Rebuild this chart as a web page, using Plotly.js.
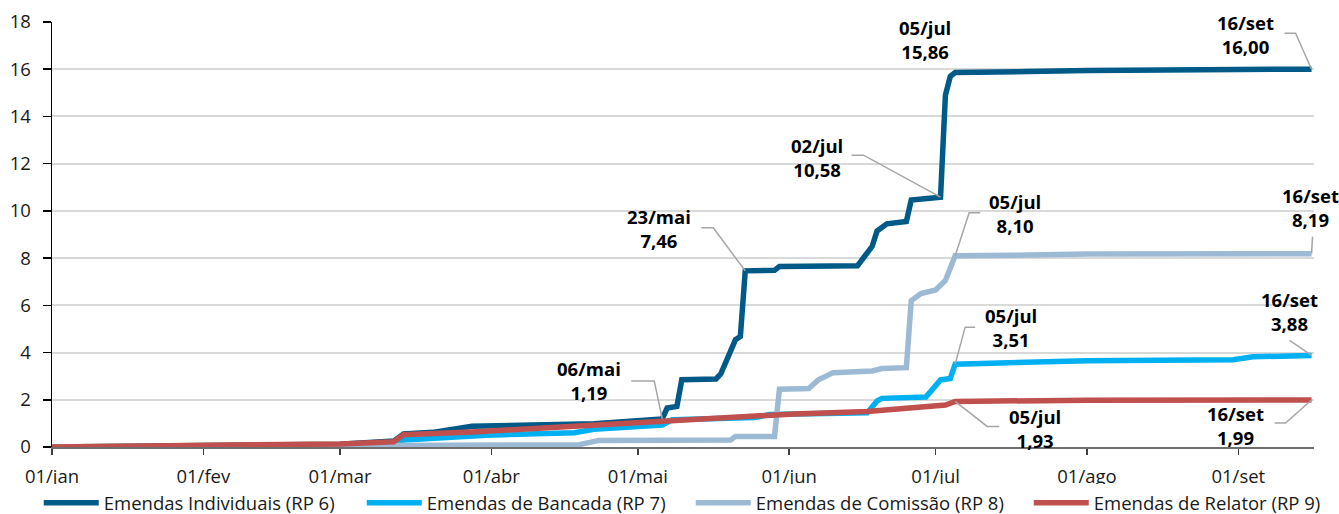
<!DOCTYPE html>
<html><head><meta charset="utf-8">
<script src="https://cdn.plot.ly/plotly-3.0.1.min.js"></script>
<style>html,body{margin:0;padding:0;background:#fff}#chart{width:1339px;height:514px}</style>
</head><body><div id="chart"></div>
<script>
// ---------- DATA ----------
const seriesNames = ['Emendas Individuais (RP 6)', 'Emendas de Bancada (RP 7)', 'Emendas de Comissão (RP 8)', 'Emendas de Relator (RP 9)'];

const rp6Dates = ['2021-01-01','2021-02-01','2021-03-01','2021-03-12','2021-03-14','2021-03-20','2021-03-28','2021-04-22','2021-04-30','2021-05-06','2021-05-07','2021-05-09','2021-05-10','2021-05-17','2021-05-18','2021-05-21','2021-05-22','2021-05-23','2021-05-29','2021-05-30','2021-06-15','2021-06-18','2021-06-19','2021-06-21','2021-06-25','2021-06-26','2021-07-02','2021-07-03','2021-07-04','2021-07-05','2021-07-20','2021-08-01','2021-09-01','2021-09-16'];
const rp6Values = [0.00,0.05,0.12,0.25,0.55,0.62,0.88,0.98,1.10,1.19,1.65,1.72,2.85,2.88,3.10,4.55,4.68,7.46,7.48,7.65,7.68,8.50,9.15,9.45,9.55,10.46,10.58,14.90,15.70,15.86,15.90,15.95,15.99,16.00];

const rp7Dates = ['2021-01-01','2021-03-12','2021-03-14','2021-03-31','2021-04-18','2021-04-22','2021-05-06','2021-05-08','2021-05-25','2021-05-28','2021-06-17','2021-06-19','2021-06-20','2021-06-29','2021-07-02','2021-07-04','2021-07-05','2021-07-20','2021-08-01','2021-08-31','2021-09-04','2021-09-16'];
const rp7Values = [0.00,0.05,0.30,0.50,0.60,0.75,0.93,1.15,1.25,1.38,1.45,1.95,2.06,2.12,2.84,2.90,3.51,3.58,3.65,3.70,3.82,3.88];

const rp8Dates = ['2021-01-01','2021-03-12','2021-03-14','2021-04-19','2021-04-23','2021-05-20','2021-05-21','2021-05-29','2021-05-30','2021-06-05','2021-06-07','2021-06-10','2021-06-18','2021-06-20','2021-06-25','2021-06-26','2021-06-28','2021-07-01','2021-07-03','2021-07-05','2021-07-20','2021-08-01','2021-09-16'];
const rp8Values = [0.00,0.03,0.08,0.10,0.28,0.30,0.45,0.45,2.45,2.48,2.85,3.15,3.22,3.32,3.36,6.20,6.50,6.65,7.05,8.10,8.13,8.17,8.19];

const rp9Dates = ['2021-01-01','2021-02-01','2021-03-01','2021-03-12','2021-03-14','2021-03-29','2021-04-17','2021-05-06','2021-05-20','2021-06-02','2021-06-17','2021-06-22','2021-06-28','2021-07-03','2021-07-05','2021-07-20','2021-08-01','2021-09-16'];
const rp9Values = [0.00,0.06,0.13,0.22,0.52,0.65,0.86,1.12,1.27,1.40,1.50,1.60,1.70,1.78,1.93,1.97,1.98,1.99];

const tickDates = ['2021-01-01','2021-02-01','2021-03-01','2021-04-01','2021-05-01','2021-06-01','2021-07-01','2021-08-01','2021-09-01'];
const tickLabels = ['01/jan','01/fev','01/mar','01/abr','01/mai','01/jun','01/jul','01/ago','01/set'];
const monthAbbr = ['jan','fev','mar','abr','mai','jun','jul','ago','set','out','nov','dez'];

// highlighted points: series index + date
const annSeries = [0,0,0,0,0,2,2,1,1,3,3];
const annDates = ['2021-05-06','2021-05-23','2021-07-02','2021-07-05','2021-09-16','2021-07-05','2021-09-16','2021-07-05','2021-09-16','2021-07-05','2021-09-16'];

// ---------- STYLE ----------
const colors = ['#005A87', '#00B0F0', '#9DBAD5', '#C0504D'];
const legendWidths = [253, 259, 268, 248];
const FONT = 'Open Sans, Noto Sans, sans-serif';
// label centre offsets (px, +y = up) and leader line paths (px, +y = up)
const labelOffsets = [[-73,38],[-86,42],[-124,40],[-30,33],[-66,35],[60,42],[-1,46],[56,37],[-22,44],[80,-27],[-76,-25]];
const leaderPaths = [
  [[0,0],[-8,38],[-31,38]],
  [[0,0],[-32,43],[-44,43]],
  [[0,0],[-77,42],[-89,42]],
  null,
  [[0,0],[-16,36],[-27,36]],
  [[0,0],[14,43],[25,43]],
  [[0,0],[1,17]],
  [[0,0],[10,37],[20,37]],
  [[0,0],[-22,15]],
  [[0,0],[32,-25],[44,-25]],
  [[0,0],[-26,-23],[-37,-23]]
];

const allDates = [rp6Dates, rp7Dates, rp8Dates, rp9Dates];
const allValues = [rp6Values, rp7Values, rp8Values, rp9Values];

const traces = seriesNames.map((name, i) => ({
  type: 'scatter', mode: 'lines', name: name,
  x: allDates[i], y: allValues[i],
  line: {color: colors[i], width: 5.5},
  legendwidth: legendWidths[i],
  hoverinfo: 'skip'
}));

function fmtDate(d) {
  const p = d.split('-');
  return p[2] + '/' + monthAbbr[parseInt(p[1], 10) - 1];
}
function fmtVal(v) { return v.toFixed(2).replace('.', ','); }

const annotations = [];
const shapes = [];
annDates.forEach((d, k) => {
  const s = annSeries[k];
  const idx = allDates[s].indexOf(d);
  const v = allValues[s][idx];
  annotations.push({
    xref: 'x', yref: 'y', x: d, y: v,
    xshift: labelOffsets[k][0], yshift: labelOffsets[k][1],
    text: '<b>' + fmtDate(d) + '<br>' + fmtVal(v) + '</b>',
    showarrow: false, xanchor: 'center', yanchor: 'middle', align: 'center',
    font: {family: FONT, size: 18.5, color: '#000'}
  });
  if (leaderPaths[k]) {
    const path = leaderPaths[k].map((p, j) => (j ? 'L' : 'M') + p[0] + ',' + p[1]).join('');
    shapes.push({
      type: 'path', xref: 'x', yref: 'y', xsizemode: 'pixel', ysizemode: 'pixel',
      xanchor: d, yanchor: v, path: path,
      line: {color: '#A6A6A6', width: 1.5}, layer: 'above'
    });
  }
});

const layout = {
  width: 1339, height: 514,
  margin: {l: 52, r: 25, t: 22, b: 67, autoexpand: false},
  paper_bgcolor: '#fff', plot_bgcolor: '#fff',
  font: {family: FONT, size: 18.5, color: '#1a1a1a'},
  showlegend: true,
  legend: {
    orientation: 'h', x: -0.0105, xanchor: 'left', y: -0.132, yanchor: 'middle',
    font: {family: FONT, size: 18.5, color: '#1a1a1a'},
    itemwidth: 55, traceorder: 'normal'
  },
  xaxis: {
    type: 'date', range: ['2021-01-01', '2021-09-16 12:00'],
    tickmode: 'array', tickvals: tickDates, ticktext: tickLabels,
    ticks: 'outside', ticklen: 6, tickwidth: 1.5, tickcolor: '#404040',
    showline: true, linecolor: '#6e6e6e', linewidth: 1.5,
    showgrid: false, zeroline: false, automargin: false,
    ticklabelstandoff: 6,
    tickfont: {family: FONT, size: 18.5, color: '#1a1a1a'}
  },
  yaxis: {
    range: [0, 18], dtick: 2, tick0: 0,
    ticks: 'outside', ticklen: 8, tickwidth: 1.5, tickcolor: '#000',
    showline: true, linecolor: '#000', linewidth: 1.5,
    showgrid: true, gridcolor: '#D9D9D9', gridwidth: 2, zeroline: false, automargin: false,
    ticklabelstandoff: 8,
    tickfont: {family: FONT, size: 18.5, color: '#1a1a1a'}
  },
  annotations: annotations,
  shapes: shapes
};

Plotly.newPlot('chart', traces, layout, {staticPlot: true, displayModeBar: false});
</script>
</body></html>
